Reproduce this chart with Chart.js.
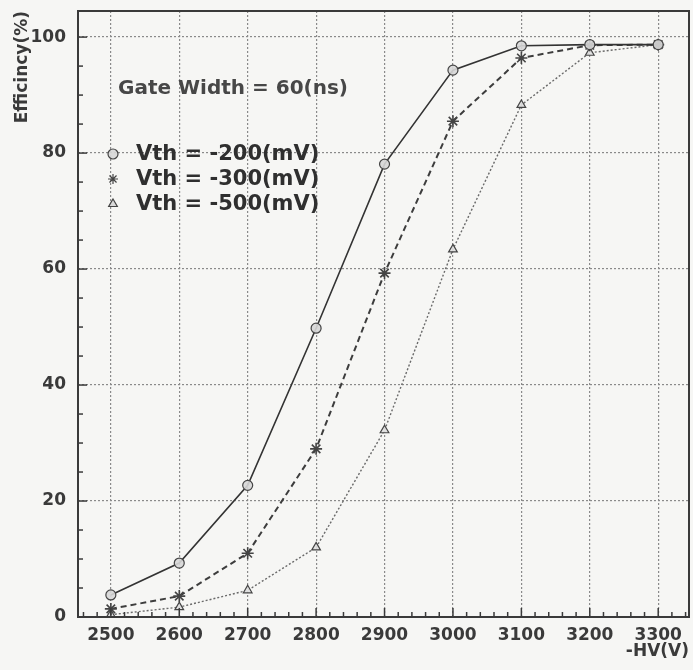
<!DOCTYPE html>
<html>
<head>
<meta charset="utf-8">
<script src="https://cdn.jsdelivr.net/npm/chart.js@4.4.1/dist/chart.umd.min.js"></script>
<style>
  html, body { margin: 0; padding: 0; background: #f6f6f4; }
  #wrap { width: 693px; height: 670px; }
</style>
</head>
<body>
<div id="wrap"><canvas id="chart" width="693" height="670"></canvas></div>
<script>
// Data
var hv = [2500, 2600, 2700, 2800, 2900, 3000, 3100, 3200, 3300];
var eff200 = [3.8, 9.3, 22.7, 49.8, 78.1, 94.3, 98.5, 98.7, 98.7];
var eff300 = [1.4, 3.6, 11.0, 29.0, 59.3, 85.5, 96.4, 98.6, 98.7];
var eff500 = [0.4, 1.7, 4.6, 12.0, 32.2, 63.4, 88.3, 97.3, 98.7];
var xTicks = [2500, 2600, 2700, 2800, 2900, 3000, 3100, 3200, 3300];
var yTicks = [0, 20, 40, 60, 80, 100];
var seriesNames = ['Vth = -200(mV)', 'Vth = -300(mV)', 'Vth = -500(mV)'];
var noteText = 'Gate Width = 60(ns)';

var ink = '#3a3a3a';
var gridCol = '#8a8a8a';
var fontName = '"DejaVu Sans", sans-serif';

function pts(ys) {
  var out = [];
  for (var i = 0; i < hv.length; i++) out.push({x: hv[i], y: ys[i]});
  return out;
}

// draws the frame, the minor ticks and the note/legend block
var decorations = {
  id: 'decorations',
  beforeDraw: function(chart) {
    var ctx = chart.ctx;
    ctx.save();
    ctx.fillStyle = '#f6f6f4';
    ctx.fillRect(0, 0, chart.width, chart.height);
    ctx.restore();
  },
  afterDraw: function(chart) {
    var ctx = chart.ctx;
    var a = chart.chartArea;
    var xs = chart.scales.x;
    var ys = chart.scales.y;
    ctx.save();
    // ticks on the inside of the bottom and left axes
    ctx.strokeStyle = ink;
    ctx.lineWidth = 1.5;
    for (var v = 2460; v <= 3340; v += 20) {
      var px = xs.getPixelForValue(v);
      var len = (v % 100 === 0) ? 9 : 5;
      ctx.beginPath();
      ctx.moveTo(px, a.bottom);
      ctx.lineTo(px, a.bottom - len);
      ctx.stroke();
    }
    for (var w = 0; w <= 100; w += 5) {
      var py = ys.getPixelForValue(w);
      var len2 = (w % 20 === 0) ? 9 : 5;
      ctx.beginPath();
      ctx.moveTo(a.left, py);
      ctx.lineTo(a.left + len2, py);
      ctx.stroke();
    }
    // frame
    ctx.lineWidth = 2;
    ctx.strokeRect(a.left, a.top, a.right - a.left, a.bottom - a.top);

    // note
    ctx.fillStyle = '#474747';
    ctx.font = 'bold 20px ' + fontName;
    ctx.textBaseline = 'middle';
    ctx.textAlign = 'left';
    ctx.fillText(noteText, 118, 89);

    // legend
    var styles = ['circle', 'star', 'triangle'];
    var rows = [154, 179, 204];
    ctx.font = 'bold 21px ' + fontName;
    for (var i = 0; i < seriesNames.length; i++) {
      ctx.strokeStyle = '#444444';
      ctx.fillStyle = 'rgba(215,215,215,0.9)';
      ctx.lineWidth = 1.2;
      Chart.helpers.drawPoint(ctx, {
        pointStyle: styles[i],
        radius: 5,
        borderWidth: 1.2,
        rotation: 0
      }, 113, rows[i]);
      ctx.fillStyle = '#2f2f2f';
      ctx.fillText(seriesNames[i], 136, rows[i] + 1);
    }
    ctx.restore();
  }
};

var ctx = document.getElementById('chart').getContext('2d');
var chart = new Chart(ctx, {
  type: 'line',
  data: {
    datasets: [
      {
        label: seriesNames[0],
        data: pts(eff200),
        borderColor: '#333333',
        borderWidth: 1.6,
        pointStyle: 'circle',
        pointRadius: 5,
        pointBorderWidth: 1.2,
        pointBorderColor: '#444444',
        pointBackgroundColor: 'rgba(215,215,215,0.9)',
        tension: 0
      },
      {
        label: seriesNames[1],
        data: pts(eff300),
        borderColor: '#3d3d3d',
        borderWidth: 2,
        borderDash: [6, 4],
        pointStyle: 'star',
        pointRadius: 6,
        pointBorderWidth: 1.6,
        pointBorderColor: '#444444',
        pointBackgroundColor: 'transparent',
        tension: 0
      },
      {
        label: seriesNames[2],
        data: pts(eff500),
        borderColor: '#6a6a6a',
        borderWidth: 1.4,
        borderDash: [2, 2],
        pointStyle: 'triangle',
        pointRadius: 5,
        pointBorderWidth: 1.2,
        pointBorderColor: '#444444',
        pointBackgroundColor: 'rgba(225,225,225,0.9)',
        tension: 0
      }
    ]
  },
  options: {
    responsive: false,
    animation: false,
    layout: { autoPadding: false, padding: { top: 11, right: 4, left: 0, bottom: 0 } },
    plugins: {
      legend: { display: false },
      tooltip: { enabled: false }
    },
    scales: {
      x: {
        type: 'linear',
        min: 2452,
        max: 3345,
        afterBuildTicks: function(s) { s.ticks = xTicks.map(function(v) { return {value: v}; }); },
        afterFit: function(s) { s.height = 53; s.paddingLeft = 0; s.paddingRight = 0; },
        grid: { color: gridCol, lineWidth: 1.2, drawTicks: false },
        border: { display: false, dash: [2, 2] },
        ticks: {
          color: ink,
          padding: 8,
          maxRotation: 0,
          autoSkip: false,
          callback: function(v) { return String(v); },
          font: { family: fontName, size: 17, weight: 'bold' }
        },
        title: {
          display: true,
          text: '-HV(V)',
          align: 'end',
          color: ink,
          padding: { top: 0, bottom: 8 },
          font: { family: fontName, size: 17, weight: 'bold' }
        }
      },
      y: {
        min: 0,
        max: 104.5,
        afterBuildTicks: function(s) { s.ticks = yTicks.map(function(v) { return {value: v}; }); },
        afterFit: function(s) { s.width = 78; s.paddingTop = 0; s.paddingBottom = 0; },
        grid: { color: gridCol, lineWidth: 1.2, drawTicks: false },
        border: { display: false, dash: [2, 2] },
        ticks: {
          color: ink,
          padding: 12,
          autoSkip: false,
          callback: function(v) { return String(v); },
          font: { family: fontName, size: 17, weight: 'bold' }
        },
        title: {
          display: true,
          text: 'Efficincy(%)',
          align: 'end',
          color: ink,
          padding: { top: 12, bottom: 0 },
          font: { family: fontName, size: 17, weight: 'bold' }
        }
      }
    }
  },
  plugins: [decorations]
});
</script>
</body>
</html>
